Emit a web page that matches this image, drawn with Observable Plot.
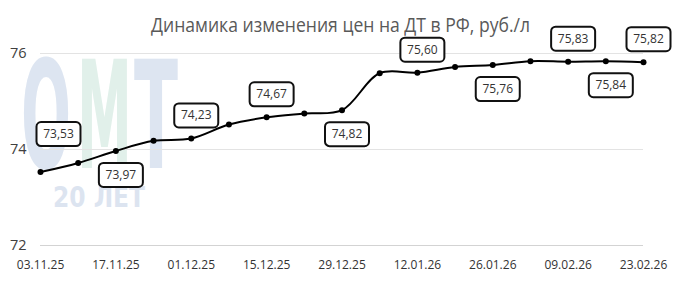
<!DOCTYPE html>
<html>
<head>
<meta charset="utf-8">
<script src="https://cdn.jsdelivr.net/npm/d3@7"></script>
<script src="https://cdn.jsdelivr.net/npm/@observablehq/plot@0.6"></script>
<style>
  html, body { margin: 0; padding: 0; background: #ffffff; }
  #wrap { position: relative; width: 683px; height: 282px; overflow: hidden; font-family: "Open Sans", sans-serif; }
  #bg, #chart, #fg { position: absolute; left: 0; top: 0; }
  #chart svg { background: transparent; }
</style>
</head>
<body>
<div id="wrap">
  <svg id="bg" width="683" height="282">
    <g font-family="DejaVu Sans" font-weight="bold">
      <text x="21" y="168" font-size="150" fill="#dde5f1" textLength="50" lengthAdjust="spacingAndGlyphs">О</text>
      <text x="77" y="168" font-size="150" fill="#e1f0ea" textLength="55" lengthAdjust="spacingAndGlyphs">М</text>
      <text x="134" y="168" font-size="150" fill="#dde5f1" textLength="44" lengthAdjust="spacingAndGlyphs">Т</text>
      <text x="53" y="207" font-size="28" fill="#dce4f0" textLength="92" lengthAdjust="spacingAndGlyphs">20 ЛЕТ</text>
    </g>
  </svg>
  <div id="chart"></div>
  <svg id="fg" width="683" height="282">
    <text x="151" y="32" font-family="Open Sans" font-size="20" fill="#595959" textLength="379" lengthAdjust="spacingAndGlyphs">Динамика изменения цен на ДТ в РФ, руб./л</text>
  </svg>
</div>
<script>
// Weekly dates (dd.mm.yy) and diesel prices, rub/l
const dates = ["03.11.25","10.11.25","17.11.25","24.11.25","01.12.25","08.12.25","15.12.25","22.12.25","29.12.25",
               "05.01.26","12.01.26","19.01.26","26.01.26","02.02.26","09.02.26","16.02.26","23.02.26"];
const prices = [73.53, 73.72, 73.97, 74.18, 74.23, 74.52, 74.67, 74.75, 74.82,
                75.59, 75.60, 75.72, 75.76, 75.84, 75.83, 75.84, 75.82];
// Labelled points and where the label sits relative to its point
const labelDates = ["03.11.25","17.11.25","01.12.25","15.12.25","29.12.25","12.01.26","26.01.26","09.02.26","16.02.26","23.02.26"];
const labelSides = ["top-right","bottom","top","top","bottom","top","bottom","top","bottom","top"];
// x-axis tick labels
const xTickLabels = ["03.11.25","17.11.25","01.12.25","15.12.25","29.12.25","12.01.26","26.01.26","09.02.26","23.02.26"];
const yTicks = [72, 74, 76];

// label placement styles
const placement = {"top": {dx: 5, dy: -23}, "bottom": {dx: 5, dy: 24}, "top-right": {dx: 18, dy: -38}};

const parseDate = d3.utcParse("%d.%m.%y");
const fmtDate = d3.utcFormat("%d.%m.%y");
const series = dates.map((d, i) => ({date: parseDate(d), price: prices[i]}));
const byDate = new Map(series.map(d => [fmtDate(d.date), d]));
const labelRows = labelDates.map((d, i) => ({...byDate.get(d), side: labelSides[i]}));
const fmtVal = v => v.toFixed(2).replace(".", ",");

const boxSymbol = {
  draw(ctx) {
    const w = 44, h = 24, r = 4.5, x0 = -w / 2, y0 = -h / 2;
    ctx.moveTo(x0 + r, y0);
    ctx.lineTo(x0 + w - r, y0);
    ctx.arcTo(x0 + w, y0, x0 + w, y0 + r, r);
    ctx.lineTo(x0 + w, y0 + h - r);
    ctx.arcTo(x0 + w, y0 + h, x0 + w - r, y0 + h, r);
    ctx.lineTo(x0 + r, y0 + h);
    ctx.arcTo(x0, y0 + h, x0, y0 + h - r, r);
    ctx.lineTo(x0, y0 + r);
    ctx.arcTo(x0, y0, x0 + r, y0, r);
    ctx.closePath();
  }
};

const labelMarks = Object.entries(placement).flatMap(([side, {dx, dy}]) => {
  const arr = labelRows.filter(d => d.side === side);
  return [
    Plot.dot(arr, {x: "date", y: "price", symbol: boxSymbol, r: 10, fill: "white", stroke: "#111", strokeWidth: 2, dx, dy}),
    Plot.text(arr, {x: "date", y: "price", text: d => fmtVal(d.price), dx, dy, fontSize: 12, fill: "#333"})
  ];
});

const chart = Plot.plot({
  width: 683,
  height: 282,
  marginTop: 53,
  marginBottom: 37,
  marginLeft: 40,
  marginRight: 40,
  style: {background: "transparent", fontFamily: "Open Sans", overflow: "visible"},
  x: {type: "utc", domain: [series[0].date, series[series.length - 1].date]},
  y: {domain: [72, 76]},
  marks: [
    Plot.gridY([74, 76], {stroke: "#e3e3e3", strokeOpacity: 1, strokeWidth: 1}),
    Plot.ruleY([72], {stroke: "#d3d3d3", strokeWidth: 1}),
    Plot.axisY(yTicks, {tickSize: 0, tickPadding: 14, fontSize: 14.5, fill: "#404040", label: null}),
    Plot.axisX(xTickLabels.map(parseDate), {tickSize: 0, tickPadding: 15, fontSize: 12, fill: "#333", tickFormat: fmtDate, label: null}),
    Plot.line(series, {x: "date", y: "price", curve: "catmull-rom", stroke: "#000", strokeWidth: 2}),
    Plot.dot(series, {x: "date", y: "price", r: 3, fill: "#000"}),
    ...labelMarks
  ]
});
document.getElementById("chart").appendChild(chart);
</script>
</body>
</html>
